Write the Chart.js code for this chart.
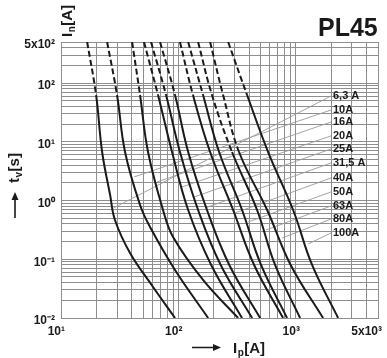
<!DOCTYPE html>
<html>
<head>
<meta charset="utf-8">
<script src="https://cdn.jsdelivr.net/npm/chart.js@4.4.1/dist/chart.umd.min.js"></script>
<style>
  html, body { margin: 0; background: #fff; }
  canvas { display: block; }
</style>
</head>
<body>
<canvas id="chart" width="387" height="358"></canvas>
<script>
// ================== Dados ==================

// corrente [A], tempo [s] de cada curva de fusível
const fuse6_3 = [[16.7, 500], [19.9, 62.6], [22.4, 6.7], [26.2, 1.24], [28.8, 0.466], [38.7, 0.128], [60.8, 0.0337], [93.5, 0.01]];
const fuse10 = [[24.7, 500], [30.0, 62.6], [35.1, 6.7], [47.1, 0.84], [57.3, 0.354], [93.5, 0.0657], [179, 0.01]];
const fuse16 = [[40.3, 500], [47.1, 62.6], [55.1, 6.7], [73.9, 0.69], [90.0, 0.239], [162, 0.0444], [322, 0.01]];
const fuse20 = [[50.9, 500], [67.0, 62.6], [88.2, 6.7], [121, 0.69], [190, 0.08], [348, 0.01]];
const fuse25 = [[58.4, 500], [78.4, 62.6], [103, 6.7], [147, 0.69], [229, 0.08], [424, 0.01]];
const fuse31_5 = [[69.7, 500], [93.5, 62.6], [121, 6.7], [175, 0.69], [271, 0.08], [496, 0.01]];
const fuse40 = [[103, 500], [133, 62.6], [186, 6.7], [292, 0.69], [441, 0.08], [778, 0.01]];
const fuse50 = [[121, 500], [162, 62.6], [222, 6.7], [348, 0.69], [505, 0.08], [841, 0.01]];
const fuse63 = [[147, 500], [193, 62.6], [286, 6.7], [467, 0.69], [665, 0.08], [1086, 0.01]];
const fuse80 = [[186, 500], [240, 62.6], [328, 6.7], [569, 0.69], [902, 0.08], [1704, 0.01]];
const fuse100 = [[265, 500], [384, 62.6], [580, 6.7], [947, 0.69], [1374, 0.08], [2288, 0.01]];

const curves = [fuse6_3, fuse10, fuse16, fuse20, fuse25, fuse31_5, fuse40, fuse50, fuse63, fuse80, fuse100];
const ratings = ["6,3 A", "10A", "16A", "20A", "25A", "31,5 A", "40A", "50A", "63A", "80A", "100A"];

// quantos trechos do topo de cada curva são tracejados
const dashedSegs = [1, 1, 1, 1, 1, 1, 1, 1, 2, 2, 1];

// rótulos e linhas de chamada
const labelI = 1990;
const labelT = [60.2, 34.8, 21.7, 12.6, 7.54, 4.36, 2.42, 1.40, 0.807, 0.485, 0.280];
const leaderI = [28, 41.9, 65.7, 107, 136, 168, 303, 392, 557, 763, 1270];
const leaderT = [0.746, 2.52, 2.07, 1.70, 1.15, 0.746, 0.614, 0.431, 0.315, 0.230, 0.182];

// grade e rótulos dos eixos
const xGrid = [10, 20, 30, 40, 50, 60, 70, 80, 90, 100, 200, 300, 400, 500, 600, 700, 800, 900, 1000, 2000, 3000, 4000, 5000];
const xTickValues = [10, 100, 1000, 5000];
const xTickTexts = ["10¹", "10²", "10³", "5x10³"];

const yGrid = [0.01, 0.02, 0.03, 0.04, 0.05, 0.06, 0.07, 0.08, 0.09,
  0.1, 0.2, 0.3, 0.4, 0.5, 0.6, 0.7, 0.8, 0.9,
  1, 2, 3, 4, 5, 6, 7, 8, 9,
  10, 20, 30, 40, 50, 60, 70, 80, 90,
  100, 200, 300, 400, 500];
const yTickValues = [500, 100, 10, 1, 0.1, 0.01];
const yTickTexts = ["5x10²", "10²", "10¹", "10⁰", "10⁻¹", "10⁻²"];

// ================== Helpers ==================

const FONT = '"Liberation Sans", Arial, sans-serif';
const GRID = "#8e8e8e";

function tickText(values, texts, v) {
  for (let i = 0; i < values.length; i++) {
    if (Math.abs(v / values[i] - 1) < 1e-6) return texts[i];
  }
  return "";
}

function subText(ctx, x, y, main, sub, rest, size) {
  ctx.font = `bold ${size}px ${FONT}`;
  ctx.fillText(main, x, y);
  let w = ctx.measureText(main).width + 0.5;
  ctx.font = `bold ${Math.round(size * 0.65)}px ${FONT}`;
  ctx.fillText(sub, x + w, y + 3);
  w += ctx.measureText(sub).width + 0.5;
  ctx.font = `bold ${size}px ${FONT}`;
  ctx.fillText(rest, x + w, y);
}

// textos extras: rótulos das curvas, títulos, setas
const textPlugin = {
  id: "fuseText",
  afterDatasetsDraw(chart) {
    const { ctx, scales } = chart;
    const x = scales.x, y = scales.y;
    ctx.save();
    ctx.fillStyle = "#1a1a1a";
    ctx.font = `bold 11px ${FONT}`;
    ctx.textAlign = "left";
    ctx.textBaseline = "middle";
    ratings.forEach((r, i) => {
      ctx.fillText(r, x.getPixelForValue(labelI) + 2, y.getPixelForValue(labelT[i]));
    });
    ctx.restore();
  },
  afterDraw(chart) {
    const ctx = chart.ctx;
    ctx.save();
    ctx.fillStyle = "#1a1a1a";
    ctx.strokeStyle = "#1a1a1a";
    ctx.textAlign = "left";
    ctx.textBaseline = "alphabetic";

    ctx.font = `bold 25px ${FONT}`;
    ctx.fillText("PL45", 318, 36);

    // I_n[A] vertical no topo
    ctx.save();
    ctx.translate(72, 37);
    ctx.rotate(-Math.PI / 2);
    subText(ctx, 0, 0, "I", "n", "[A]", 15);
    ctx.restore();

    // t_v[s] vertical
    ctx.save();
    ctx.translate(19, 183);
    ctx.rotate(-Math.PI / 2);
    subText(ctx, 0, 0, "t", "v", "[s]", 15);
    ctx.restore();

    // I_p[A]
    subText(ctx, 233, 353, "I", "p", "[A]", 15);

    // setas
    ctx.lineWidth = 1.6;
    ctx.beginPath();
    ctx.moveTo(15, 218);
    ctx.lineTo(15, 198);
    ctx.moveTo(192, 347.5);
    ctx.lineTo(215, 347.5);
    ctx.stroke();
    ctx.beginPath();
    ctx.moveTo(15, 192);
    ctx.lineTo(11.5, 200);
    ctx.lineTo(18.5, 200);
    ctx.closePath();
    ctx.fill();
    ctx.beginPath();
    ctx.moveTo(221, 347.5);
    ctx.lineTo(213, 344);
    ctx.lineTo(213, 351);
    ctx.closePath();
    ctx.fill();
    ctx.restore();
  }
};

// ================== Datasets ==================

const datasets = curves.map((c, i) => ({
  label: ratings[i],
  data: c.map((p) => ({ x: p[0], y: p[1] })),
  borderColor: "#1a1a1a",
  borderWidth: 2,
  pointRadius: 0,
  tension: 0.4,
  order: 0,
  segment: {
    borderDash: (ctx) => (ctx.p0DataIndex < dashedSegs[i] ? [6, 3] : undefined),
  },
}));

ratings.forEach((r, i) => {
  datasets.push({
    label: "leader " + r,
    data: [{ x: leaderI[i], y: leaderT[i] }, { x: labelI, y: labelT[i] }],
    borderColor: "#9a9a9a",
    borderWidth: 0.9,
    pointRadius: 0,
    order: 1,
  });
});

// ================== Gráfico ==================

new Chart(document.getElementById("chart"), {
  type: "line",
  data: { datasets },
  plugins: [textPlugin],
  options: {
    responsive: false,
    devicePixelRatio: 1,
    animation: false,
    layout: { padding: { top: 42, right: 9, left: 0, bottom: 0 } },
    plugins: { legend: { display: false }, tooltip: { enabled: false } },
    scales: {
      x: {
        type: "logarithmic",
        min: 10,
        max: 5000,
        afterBuildTicks: (scale) => { scale.ticks = xGrid.map((v) => ({ value: v })); },
        afterFit: (scale) => { scale.height = 40; scale.paddingLeft = 0; scale.paddingRight = 0; },
        grid: { color: GRID, lineWidth: 1, drawTicks: false },
        border: { color: GRID },
        ticks: {
          autoSkip: false,
          maxRotation: 0,
          minRotation: 0,
          align: "end",
          labelOffset: 4,
          padding: 6,
          color: "#1a1a1a",
          font: { family: FONT, size: 12, weight: "bold" },
          callback: (v) => tickText(xTickValues, xTickTexts, v),
        },
      },
      y: {
        type: "logarithmic",
        min: 0.01,
        max: 500,
        afterBuildTicks: (scale) => { scale.ticks = yGrid.map((v) => ({ value: v })); },
        afterFit: (scale) => { scale.width = 61; scale.paddingTop = 0; scale.paddingBottom = 0; },
        grid: { color: GRID, lineWidth: 1, drawTicks: false },
        border: { color: GRID },
        ticks: {
          autoSkip: false,
          padding: 6,
          labelOffset: 3,
          color: "#1a1a1a",
          font: { family: FONT, size: 12, weight: "bold" },
          callback: (v) => tickText(yTickValues, yTickTexts, v),
        },
      },
    },
  },
});
</script>
</body>
</html>
